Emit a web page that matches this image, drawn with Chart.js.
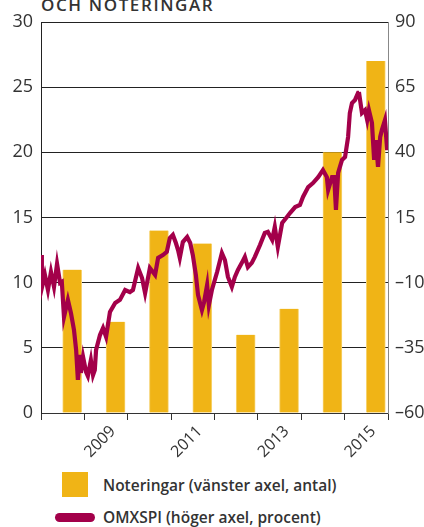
<!DOCTYPE html>
<html>
<head>
<meta charset="utf-8">
<script src="https://cdn.jsdelivr.net/npm/chart.js@4.4.1/dist/chart.umd.min.js"></script>
<style>
    html, body { margin: 0; padding: 0; background: #fff; width: 424px; height: 527px; overflow: hidden; }
    body { position: relative; font-family: "Open Sans", sans-serif; color: #333; }
    #title { position: absolute; left: 41px; top: -7px; font-size: 17px; font-weight: 600; letter-spacing: 1.6px; white-space: nowrap; }
    #wrap { position: absolute; left: 0; top: 0; width: 424px; height: 463px; }
    .leg-box { position: absolute; left: 62px; top: 472px; width: 26px; height: 25px; background: #F0B416; }
    .leg-line { position: absolute; left: 55px; top: 513px; width: 40px; height: 9px; border-radius: 5px; background: #A3004A; }
    .leg-text { position: absolute; left: 103px; font-size: 15.5px; font-weight: 600; line-height: 20px; white-space: nowrap; }
</style>
</head>
<body>
<div id="title">OCH NOTERINGAR</div>
<div id="wrap"><canvas id="chart" width="424" height="463"></canvas></div>
<div class="leg-box"></div>
<div class="leg-text" style="top:475px">Noteringar (vänster axel, antal)</div>
<div class="leg-line"></div>
<div class="leg-text" style="top:507px">OMXSPI (höger axel, procent)</div>

<script>
// staplar: antal noteringar per år
const years = ['2008', '2009', '2010', '2011', '2012', '2013', '2014', '2015'];
const tickLabels = ['', '2009', '', '2011', '', '2013', '', '2015'];
const listings = [11, 7, 14, 13, 6, 8, 20, 27];

// OMXSPI, procent
const omxTime = [
    2008.00, 2008.02, 2008.09, 2008.16, 2008.23, 2008.30, 2008.37, 2008.44, 2008.48, 2008.53,
    2008.62, 2008.69, 2008.76, 2008.81, 2008.85, 2008.90, 2008.92, 2008.97, 2009.04, 2009.08,
    2009.15, 2009.20, 2009.24, 2009.27, 2009.36, 2009.43, 2009.50, 2009.59, 2009.71, 2009.82,
    2009.94, 2010.05, 2010.12, 2010.24, 2010.33, 2010.40, 2010.51, 2010.63, 2010.70, 2010.81,
    2010.90, 2010.97, 2011.04, 2011.11, 2011.16, 2011.20, 2011.27, 2011.37, 2011.44, 2011.50,
    2011.57, 2011.62, 2011.71, 2011.76, 2011.83, 2011.87, 2011.94, 2012.06, 2012.17, 2012.24,
    2012.31, 2012.40, 2012.47, 2012.54, 2012.63, 2012.70, 2012.77, 2012.86, 2012.93, 2013.05,
    2013.16, 2013.23, 2013.33, 2013.39, 2013.46, 2013.56, 2013.67, 2013.74, 2013.86, 2013.97,
    2014.04, 2014.16, 2014.27, 2014.39, 2014.50, 2014.59, 2014.62, 2014.71, 2014.76, 2014.80,
    2014.85, 2014.94, 2015.01, 2015.08, 2015.12, 2015.17, 2015.24, 2015.31, 2015.33, 2015.40,
    2015.47, 2015.52, 2015.56, 2015.63, 2015.68, 2015.72, 2015.77, 2015.82, 2015.86, 2015.93,
    2015.98, 2016.00
];
const omxValues = [
    0.6, -12, -7, -12.8, -5.9, -11.6, -2.8, -10.1, -9.7, -23.2,
    -16.6, -21.6, -28.1, -35.8, -47.3, -37.7, -44.6, -38.5, -44.3, -45.8,
    -39.7, -45.4, -43.5, -35.8, -30.1, -27.4, -30.8, -21.2, -17.8, -16.6,
    -12.8, -13.6, -12.8, -4.4, -8.2, -14, -4.4, -7, -0.5, 0.6,
    1.8, 7.1, 8.3, 5.2, 2.5, -0.5, 5.6, 7.5, 5.2, 0.6,
    -7, -14.7, -20.5, -17.4, -10.9, -18.6, -12.8, -5.9, 1.4, -1.3,
    -7.8, -11.6, -7.8, -5.1, -2.4, -0.1, -4, -2.4, -0.1, 4.5,
    9.1, 9.5, 6.4, 11.4, 3.7, 12.9, 15.2, 16.7, 19, 19.8,
    22.9, 26.7, 28.2, 30.5, 33.2, 30.5, 25.6, 30.5, 30.5, 17.9,
    32.1, 37.1, 38.2, 45.9, 55.1, 58.9, 60.1, 62.8, 63.1, 55.1,
    56.2, 52.4, 56.2, 51.3, 37.1, 44.7, 34.4, 45.9, 48.6, 52.4,
    40.9, 44.7
];

const tickFont = { family: 'Open Sans', size: 18 };

new Chart(document.getElementById('chart').getContext('2d'), {
    data: {
        labels: years,
        datasets: [
            {
                type: 'line',
                label: 'OMXSPI (höger axel, procent)',
                data: omxTime.map((t, i) => ({ x: t, y: omxValues[i] })),
                xAxisID: 'xLine',
                yAxisID: 'y2',
                borderColor: '#A3004A',
                borderWidth: 4.2,
                pointRadius: 0,
                tension: 0,
                order: 0
            },
            {
                type: 'bar',
                label: 'Noteringar (vänster axel, antal)',
                data: listings,
                xAxisID: 'x',
                yAxisID: 'y',
                backgroundColor: '#F0B416',
                borderColor: '#F7D36F',
                borderWidth: { left: 1, right: 1, top: 0, bottom: 0 },
                barThickness: 19,
                order: 1
            }
        ]
    },
    options: {
        responsive: false,
        animation: false,
        devicePixelRatio: 1,
        layout: { padding: { top: 22, left: 0, right: 0, bottom: 0 } },
        plugins: { legend: { display: false }, tooltip: { enabled: false } },
        scales: {
            x: {
                type: 'category',
                offset: true,
                grid: { drawOnChartArea: false, drawTicks: true, tickLength: 7, color: '#333', offset: true },
                border: { color: '#333' },
                ticks: {
                    autoSkip: false, maxRotation: 45, minRotation: 45, padding: 2, labelOffset: 7,
                    color: '#333', font: { family: 'Open Sans', size: 16 },
                    callback: (v, i) => tickLabels[i]
                },
                afterFit: s => { s.height = 50; }
            },
            xLine: { type: 'linear', display: false, min: 2008, max: 2016 },
            y: {
                position: 'left',
                min: 0, max: 30,
                ticks: { stepSize: 5, padding: 8, color: '#333', font: tickFont },
                grid: { color: '#222', drawTicks: false },
                border: { color: '#222' },
                afterFit: s => { s.width = 41; }
            },
            y2: {
                position: 'right',
                min: -60, max: 90,
                ticks: {
                    stepSize: 25, padding: 7, color: '#333', font: tickFont,
                    callback: v => v < 0 ? '\u2013' + Math.abs(v) : String(v)
                },
                grid: { drawOnChartArea: false, drawTicks: false },
                border: { color: '#888' },
                afterFit: s => { s.width = 36; }
            }
        }
    }
});
</script>
</body>
</html>
